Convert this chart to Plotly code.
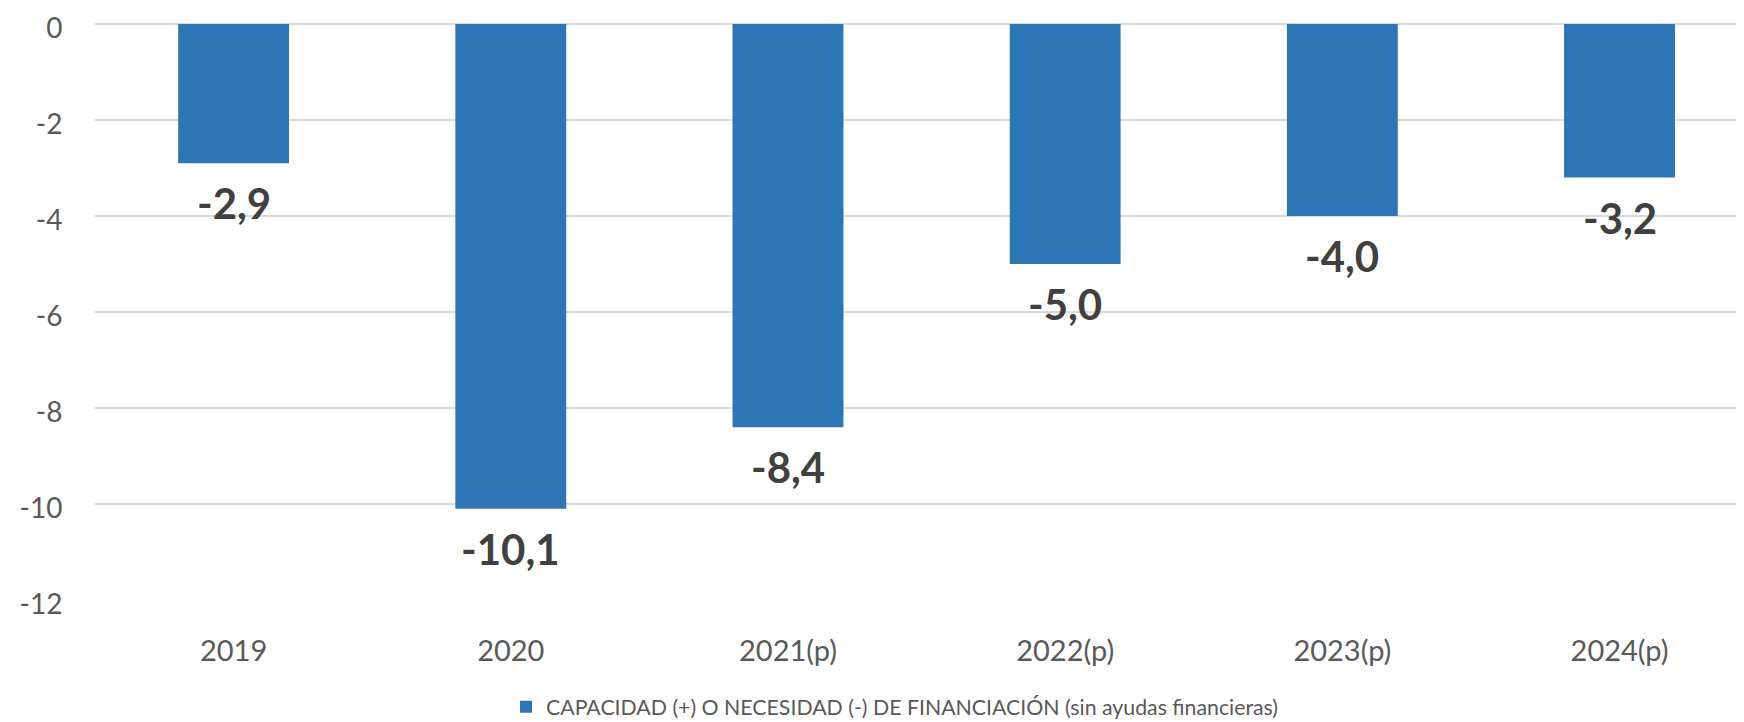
import plotly.graph_objects as go

categories = ["2019", "2020", "2021(p)", "2022(p)", "2023(p)", "2024(p)"]
values = [-2.9, -10.1, -8.4, -5.0, -4.0, -3.2]
labels = ["-2,9", "-10,1", "-8,4", "-5,0", "-4,0", "-3,2"]
y_ticks = [0, -2, -4, -6, -8, -10, -12]
y_tick_text = ["0", "-2", "-4", "-6", "-8", "-10", "-12"]
series_name = "CAPACIDAD (+) O NECESIDAD (-) DE FINANCIACIÓN (sin ayudas financieras)"

# the page body adds an 8px offset, so the figure is drawn 8px smaller
W, H = 1736, 714
left, top, bottom = 87, 0, 122
px_per_unit = 48
y_top = 16 / px_per_unit  # leaves 16px above the zero line

fig = go.Figure()
fig.add_trace(go.Bar(
    x=categories, y=values, name=series_name,
    marker=dict(color="#2E75B6", line=dict(width=0)),
    width=0.4, showlegend=True,
))

for i, (v, t) in enumerate(zip(values, labels)):
    fig.add_annotation(
        x=i, y=v, xref="x", yref="y", text=f"<b>{t}</b>", showarrow=False,
        yanchor="middle", yshift=-40,
        font=dict(family="Lato", size=42, color="#404040"),
    )

fig.update_layout(
    width=W, height=H,
    margin=dict(l=left, r=0, t=top, b=bottom, pad=0, autoexpand=False),
    paper_bgcolor="white", plot_bgcolor="white",
    font=dict(family="Lato", color="#595959"),
    bargap=0.6,
    showlegend=True,
    legend=dict(
        orientation="h", xref="container", yref="container",
        x=887 / W, xanchor="center", y=1 - 699 / H, yanchor="middle",
        font=dict(family="Lato", size=21.3, color="#595959"),
        itemwidth=30,
    ),
    xaxis=dict(
        type="category", range=[-0.5, 5.449], automargin=False,
        showgrid=False, zeroline=False, showline=False,
        ticks="outside", ticklen=25, tickcolor="rgba(0,0,0,0)",
        tickfont=dict(family="Lato", size=29, color="#595959"),
    ),
    yaxis=dict(
        range=[-12, y_top], tickvals=y_ticks, ticktext=y_tick_text, automargin=False,
        showgrid=True, gridcolor="#D9D9D9", gridwidth=2,
        zeroline=False, showline=False, ticklabeloverflow="allow",
        ticklabelshift=4,
        ticks="outside", ticklen=26, tickcolor="rgba(0,0,0,0)",
        tickfont=dict(family="Lato", size=28, color="#595959"),
    ),
)

fig.write_html("out.html")
